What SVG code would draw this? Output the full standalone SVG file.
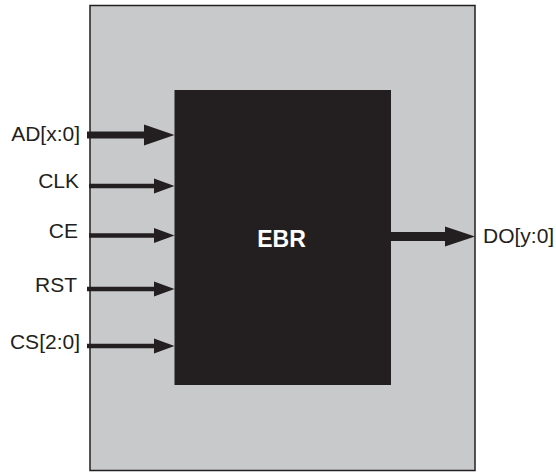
<svg xmlns="http://www.w3.org/2000/svg" width="556" height="472" viewBox="0 0 556 472">
<style>
.lbl{font-family:"Liberation Sans",Arial,sans-serif;font-size:21px;fill:#231f20}
.ln{stroke:#231f20;fill:none}
.hd{fill:#231f20}
</style>
<rect width="556" height="472" fill="#ffffff"/>
<g id="outer">
<rect x="90" y="5.5" width="385" height="465" fill="#c8c9cb" stroke="#231f20" stroke-width="1.5"/>
</g>
<g id="ebr">
<rect x="174.5" y="90" width="216.5" height="295" fill="#231f20"/>
<text x="281.5" y="246.5" text-anchor="middle" style="font-family:'Liberation Sans',Arial,sans-serif;font-size:23px;font-weight:bold;fill:#ffffff">EBR</text>
</g>
<g id="labels">
<text class="lbl" x="80" y="141" text-anchor="end">AD[x:0]</text>
<text class="lbl" x="79" y="188" text-anchor="end">CLK</text>
<text class="lbl" x="78" y="238" text-anchor="end">CE</text>
<text class="lbl" x="77" y="292" text-anchor="end">RST</text>
<text class="lbl" x="80" y="349" text-anchor="end">CS[2:0]</text>
<text class="lbl" x="483" y="243">DO[y:0]</text>
</g>
<g id="connectors">
<line class="ln" x1="87" y1="135" x2="146" y2="135" stroke-width="7"/>
<polygon class="hd" points="144,124.5 174.5,135 144,145.5"/>
<line class="ln" x1="89" y1="186" x2="156" y2="186" stroke-width="4.5"/>
<polygon class="hd" points="154,178.5 174.5,186 154,193.5"/>
<line class="ln" x1="89" y1="235.5" x2="156" y2="235.5" stroke-width="4.5"/>
<polygon class="hd" points="154,228 174.5,235.5 154,243"/>
<line class="ln" x1="87" y1="289" x2="156" y2="289" stroke-width="4.5"/>
<polygon class="hd" points="154,281.5 174.5,289 154,296.5"/>
<line class="ln" x1="87" y1="346" x2="156" y2="346" stroke-width="4.5"/>
<polygon class="hd" points="154,338.5 174.5,346 154,353.5"/>
<line class="ln" x1="391" y1="236.5" x2="447" y2="236.5" stroke-width="9"/>
<polygon class="hd" points="445,226.5 475,236.5 445,246.5"/>
</g>
</svg>
